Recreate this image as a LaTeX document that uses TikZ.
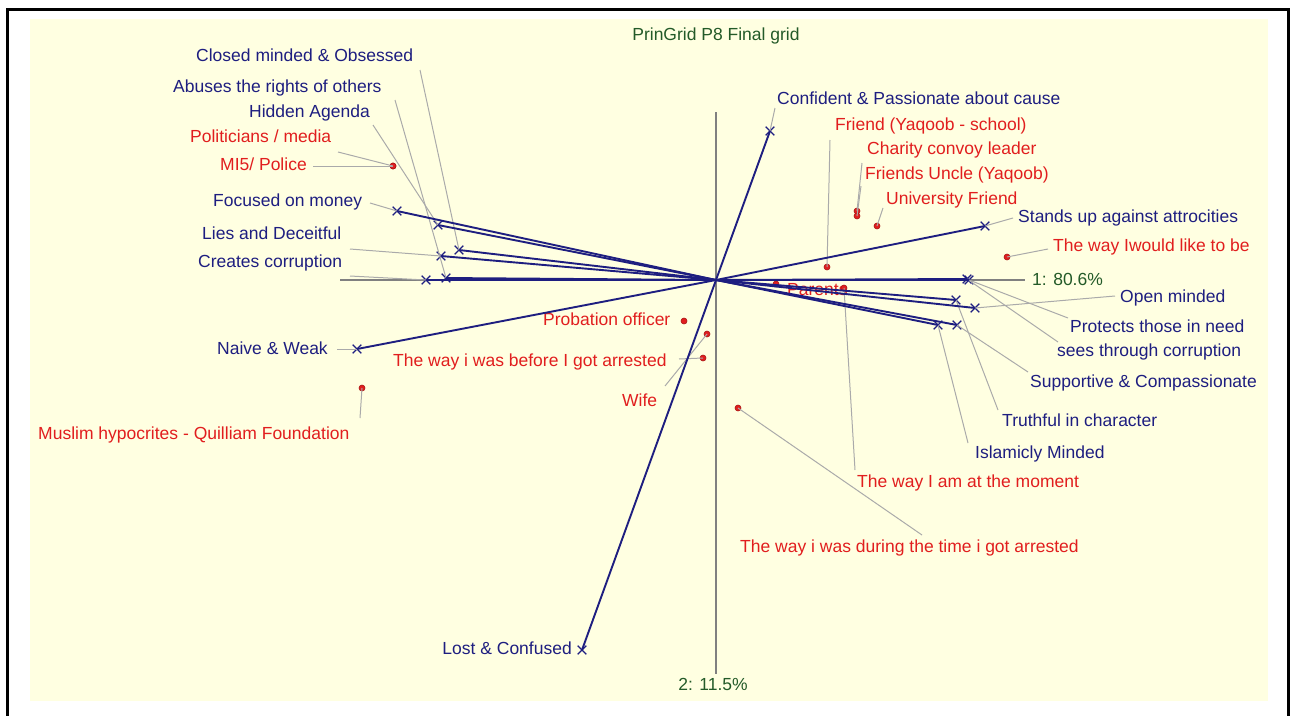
\documentclass[tikz,border=0pt]{standalone}
\usepackage{fontspec}
\setmainfont{Liberation Sans}
\usetikzlibrary{shapes.misc}
\definecolor{navyc}{RGB}{30,30,128}
\definecolor{redc}{RGB}{225,30,30}
\definecolor{greenc}{RGB}{35,90,40}
\definecolor{panelc}{RGB}{255,255,225}
\definecolor{leadc}{RGB}{170,170,170}
\definecolor{axisc}{RGB}{128,128,128}
\begin{document}
\begin{tikzpicture}[x=1pt,y=-1pt,
 lbl/.style={inner sep=0pt, font=\fontsize{17.5}{20}\selectfont},
 blab/.style={lbl,text=navyc,anchor=mid west,yshift=-4pt},
 rlab/.style={lbl,text=redc,anchor=mid west,yshift=-4pt},
 glab/.style={lbl,text=greenc},
 xmk/.style={cross out,draw=navyc,line width=1.2pt,minimum size=7.5pt,inner sep=0pt},
 edot/.style={circle,fill=redc,draw={rgb,255:red,170;green,20;blue,20},line width=0.6pt,minimum size=6pt,inner sep=0pt},
 leader/.style={draw=leadc,line width=1pt},
 cons/.style={draw=navyc,line width=1.9pt},
 axisline/.style={draw=axisc,line width=1.8pt}]
\useasboundingbox (0,0) rectangle (1293,715);
\fill[white] (0,0) rectangle (1293,715);
\fill[panelc] (30,19) rectangle (1268,701);
\draw[black,line width=2.5pt] (7.5,725) -- (7.5,9.5) -- (1288.5,9.5) -- (1288.5,725);

% title and axis labels
\node[glab] (title) at (716,36) {PrinGrid P8 Final grid};
\node[glab,anchor=mid west,yshift=-4pt] (ax1) at (1032,279) {1: 80.6\%};
\node[glab] (ax2) at (713,684) {2: 11.5\%};

% axes
\coordinate (O) at (716,280);
\coordinate (axL) at (340,280);
\coordinate (axR) at (1025,280);
\coordinate (axT) at (716,112);
\coordinate (axB) at (716,674);
\draw[axisline] (axL) -- (axR);
\draw[axisline] (axT) -- (axB);

% construct labels (blue)
\node[blab] (cmo) at (196,55) {Closed minded \& Obsessed};
\node[blab] (abu) at (173,86) {Abuses the rights of others};
\node[blab] (hid) at (249,111) {Hidden Agenda};
\node[blab] (foc) at (213,200) {Focused on money};
\node[blab] (lie) at (202,233) {Lies and Deceitful};
\node[blab] (cre) at (198,261) {Creates corruption};
\node[blab] (nai) at (217,348) {Naive \& Weak};
\node[blab,anchor=mid east] (los) at (572,648) {Lost \& Confused};
\node[blab] (con) at (777,98) {Confident \& Passionate about cause};
\node[blab] (sta) at (1018,216) {Stands up against attrocities};
\node[blab] (ope) at (1120,296) {Open minded};
\node[blab] (pro) at (1070,326) {Protects those in need};
\node[blab] (see) at (1057,350) {sees through corruption};
\node[blab] (sup) at (1030,381) {Supportive \& Compassionate};
\node[blab] (tru) at (1002,420) {Truthful in character};
\node[blab] (isl) at (975,452) {Islamicly Minded};

% element labels (red)
\node[rlab] (pol) at (190,136) {Politicians / media};
\node[rlab] (mi5) at (220,164) {MI5/ Police};
\node[rlab] (mus) at (38,433) {Muslim hypocrites - Quilliam Foundation};
\node[rlab] (prb) at (543,319) {Probation officer};
\node[rlab] (bef) at (393,360) {The way i was before I got arrested};
\node[rlab] (wif) at (622,400) {Wife};
\node[rlab] (fys) at (835,124) {Friend (Yaqoob - school)};
\node[rlab] (cha) at (867,148) {Charity convoy leader};
\node[rlab] (fun) at (865,173) {Friends Uncle (Yaqoob)};
\node[rlab] (uni) at (886,198) {University Friend};
\node[rlab] (lik) at (1053,245) {The way Iwould like to be};
\node[rlab] (par) at (787,289) {Parents};
\node[rlab] (mom) at (857,481) {The way I am at the moment};
\node[rlab] (dur) at (740,546) {The way i was during the time i got arrested};

% construct markers
\node[xmk] (mNai) at (357,349) {};
\node[xmk] (mSta) at (985,226) {};
\node[xmk] (mLos) at (582,650) {};
\node[xmk] (mCon) at (770,131) {};
\node[xmk] (mFoc) at (397,211) {};
\node[xmk] (mIsl) at (938,325) {};
\node[xmk] (mHid) at (438,225) {};
\node[xmk] (mSup) at (957,325) {};
\node[xmk] (mCmo) at (459,250) {};
\node[xmk] (mOpe) at (975,308) {};
\node[xmk] (mLie) at (441,256) {};
\node[xmk] (mTru) at (956,300) {};
\node[xmk] (mCre) at (426,280) {};
\node[xmk] (mSee) at (967,279) {};
\node[xmk] (mAbu) at (446,278) {};
\node[xmk] (mPro) at (969,280) {};

% element dots
\node[edot] (dMi5) at (393,166) {};
\node[edot] (dPol) at (393,166) {};
\node[edot] (dMus) at (362,388) {};
\node[edot] (dPrb) at (684,321) {};
\node[edot] (dBef) at (703,358) {};
\node[edot] (dWif) at (707,334) {};
\node[edot] (dFys) at (827,267) {};
\node[edot] (dCha) at (857,211) {};
\node[edot] (dFun) at (857,216) {};
\node[edot] (dUni) at (877,226) {};
\node[edot] (dLik) at (1007,257) {};
\node[edot] (dPar) at (776,284) {};
\node[edot] (dMom) at (844,288) {};
\node[edot] (dDur) at (738,408) {};

% leader start points
\coordinate (lCmo) at (420,70);
\coordinate (lAbu) at (395,100);
\coordinate (lHid) at (373,125);
\coordinate (lPol) at (338,152);
\coordinate (lMi5) at (313,166);
\coordinate (lFoc) at (370,203);
\coordinate (lLie) at (350,249);
\coordinate (lCre) at (350,276);
\coordinate (lNai) at (337,349);
\coordinate (lMus) at (360,418);
\coordinate (lBef) at (679,359);
\coordinate (lWif) at (665,386);
\coordinate (lCon) at (775,108);
\coordinate (lFys) at (830,140);
\coordinate (lCha) at (862,163);
\coordinate (lFun) at (861,186);
\coordinate (lUni) at (883,208);
\coordinate (lSta) at (1013,218);
\coordinate (lLik) at (1048,249);
\coordinate (lOpe) at (1115,296);
\coordinate (lPro) at (1068,318);
\coordinate (lSee) at (1058,342);
\coordinate (lSup) at (1028,372);
\coordinate (lTru) at (998,410);
\coordinate (lIsl) at (968,443);
\coordinate (lMom) at (855,470);
\coordinate (lDur) at (922,535);

% leaders
\draw[leader] (lCmo) -- (mCmo.center);
\draw[leader] (lAbu) -- (mAbu.center);
\draw[leader] (lHid) -- (mHid.center);
\draw[leader] (lPol) -- (dPol.center);
\draw[leader] (lMi5) -- (dMi5.center);
\draw[leader] (lFoc) -- (mFoc.center);
\draw[leader] (lLie) -- (mLie.center);
\draw[leader] (lCre) -- (mCre.center);
\draw[leader] (lNai) -- (mNai.center);
\draw[leader] (lMus) -- (dMus.center);
\draw[leader] (lBef) -- (dBef.center);
\draw[leader] (lWif) -- (dWif.center);
\draw[leader] (lCon) -- (mCon.center);
\draw[leader] (lFys) -- (dFys.center);
\draw[leader] (lCha) -- (dCha.center);
\draw[leader] (lFun) -- (dFun.center);
\draw[leader] (lUni) -- (dUni.center);
\draw[leader] (lSta) -- (mSta.center);
\draw[leader] (lLik) -- (dLik.center);
\draw[leader] (lOpe) -- (mOpe.center);
\draw[leader] (lPro) -- (mPro.center);
\draw[leader] (lSee) -- (mSee.center);
\draw[leader] (lSup) -- (mSup.center);
\draw[leader] (lTru) -- (mTru.center);
\draw[leader] (lIsl) -- (mIsl.center);
\draw[leader] (lMom) -- (dMom.center);
\draw[leader] (lDur) -- (dDur.center);

% construct lines
\draw[cons] (mNai.center) -- (O) -- (mSta.center);
\draw[cons] (mLos.center) -- (O) -- (mCon.center);
\draw[cons] (mFoc.center) -- (O) -- (mIsl.center);
\draw[cons] (mHid.center) -- (O) -- (mSup.center);
\draw[cons] (mCmo.center) -- (O) -- (mOpe.center);
\draw[cons] (mLie.center) -- (O) -- (mTru.center);
\draw[cons] (mCre.center) -- (O) -- (mSee.center);
\draw[cons] (mAbu.center) -- (O) -- (mPro.center);
\end{tikzpicture}
\end{document}
